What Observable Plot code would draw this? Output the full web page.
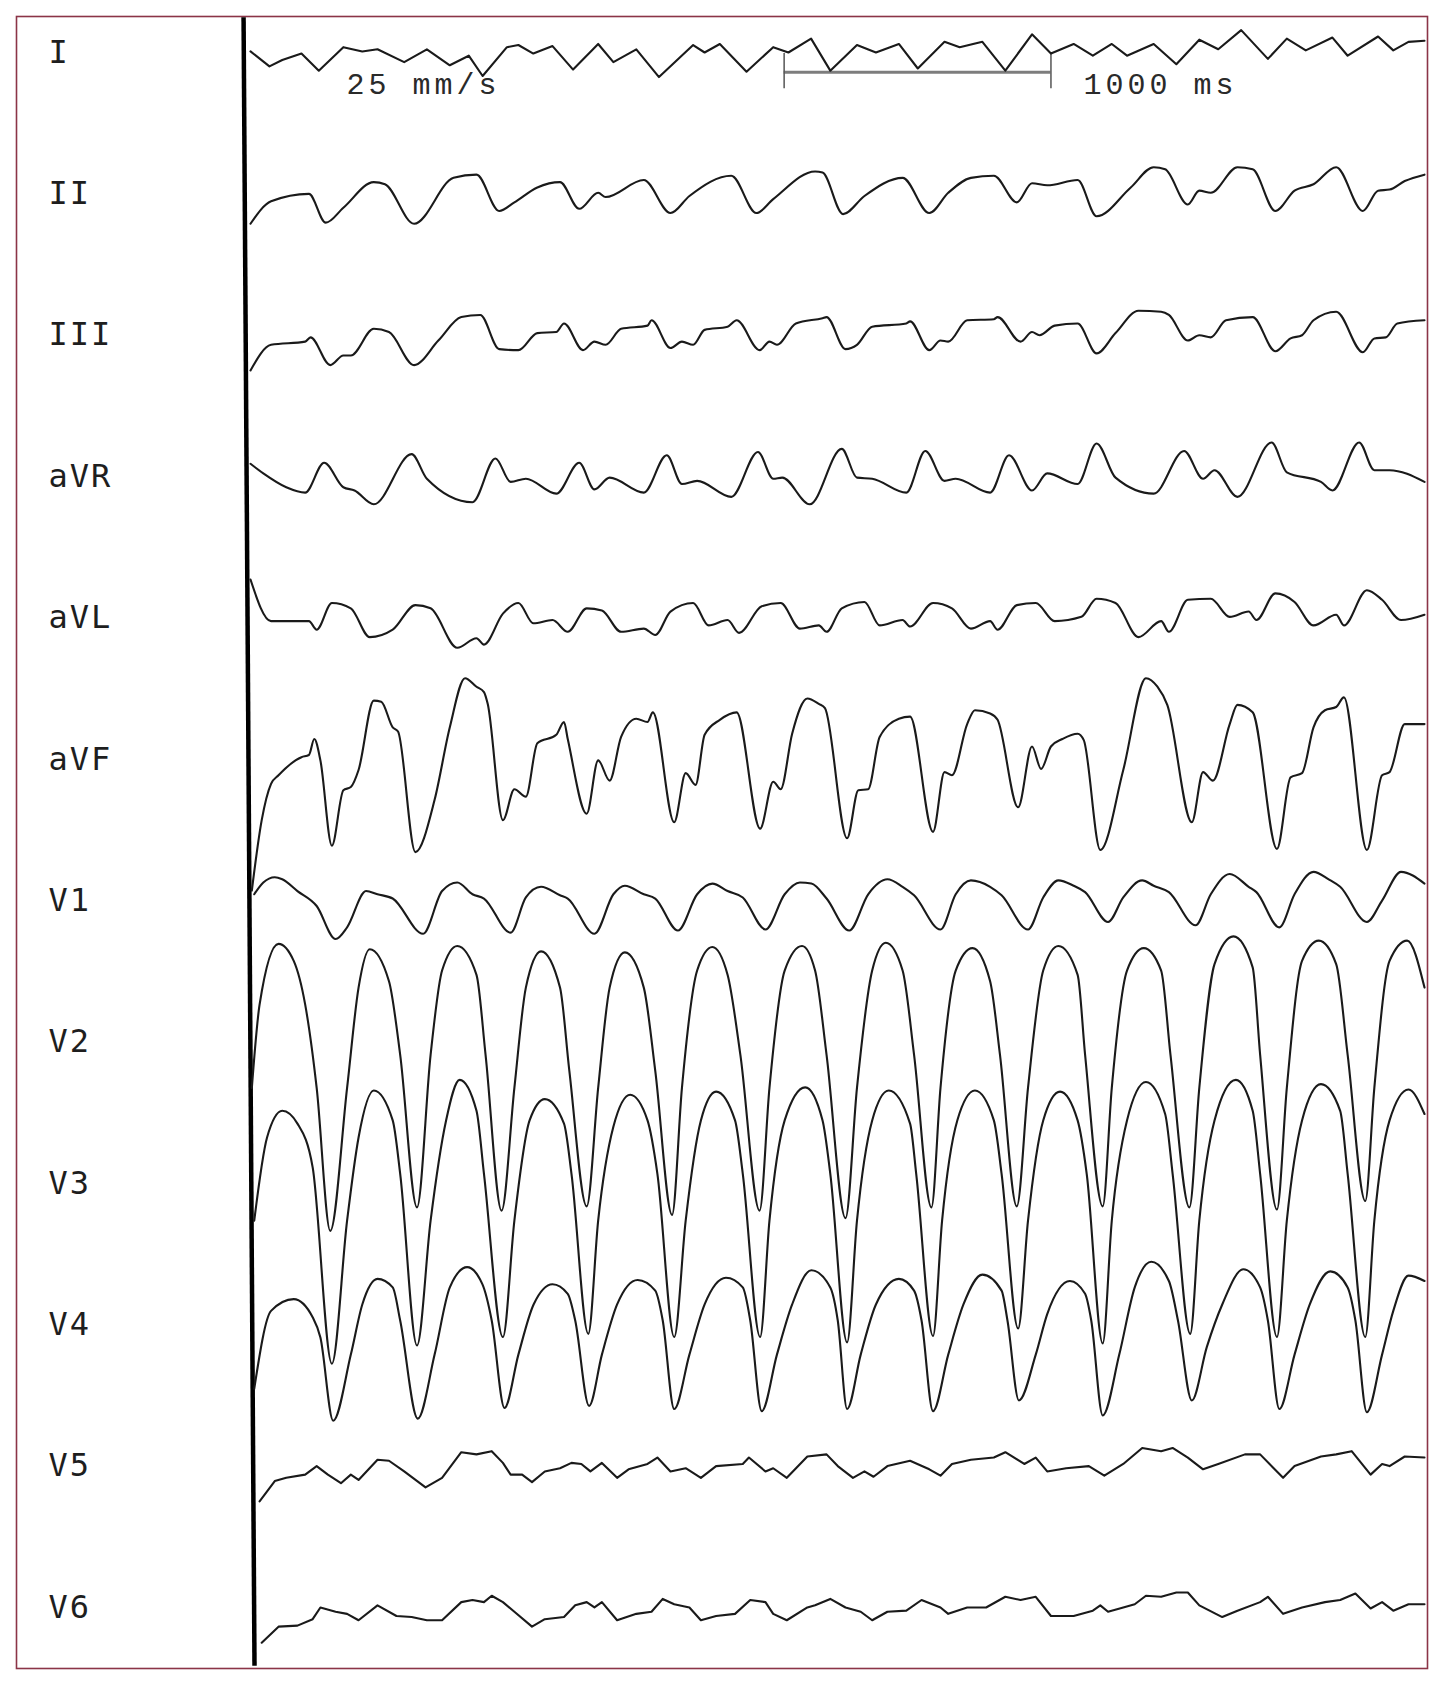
<!DOCTYPE html>
<html>
<head>
<meta charset="utf-8">
<script src="https://cdn.jsdelivr.net/npm/d3@7"></script>
<script src="https://cdn.jsdelivr.net/npm/@observablehq/plot@0.6"></script>
<style>
  html, body { margin: 0; padding: 0; background: #fff; }
  #chart svg { display: block; background: #fff; }
</style>
</head>
<body>
<div id="chart"></div>
<script>
// ---- Data (time in ms, amplitude in mV relative to each lead's label line) ----
const leadNames = ["I","II","III","aVR","aVL","aVF","V1","V2","V3","V4","V5","V6"];

const leadI = [[0,0.01],[71,-0.13],[119,-0.07],[191,-0.01],[256,-0.17],[348,0.05],[419,0.01],[476,0.03],[576,-0.09],[661,0.03],[747,-0.12],[818,-0.03],[870,-0.22],[961,0.05],[1004,0.07],[1060,-0.01],[1132,0.06],[1209,-0.16],[1303,0.08],[1360,-0.09],[1446,0.03],[1531,-0.23],[1659,0.07],[1702,0],[1759,0.08],[1859,-0.18],[1959,0.05],[2016,0],[2101,0.13],[2173,-0.17],[2273,0.07],[2344,0],[2430,0.08],[2501,-0.15],[2601,0.10],[2658,0.05],[2743,0.10],[2829,-0.17],[2929,0.17],[3000,-0.01],[3085,0.08],[3157,-0.03],[3228,0.08],[3285,-0.03],[3385,0.08],[3470,-0.11],[3556,0.12],[3627,0.03],[3713,0.21],[3813,-0.06],[3884,0.13],[3955,0.02],[4055,0.14],[4112,-0.03],[4226,0.15],[4283,0.02],[4340,0.10],[4400,0.11]];

const leadII = [[0,-0.28],[77,-0.07],[219,0],[282,-0.27],[348,-0.13],[462,0.11],[504,0.09],[613,-0.28],[761,0.15],[847,0.18],[932,-0.16],[989,-0.08],[1075,0.06],[1160,0.11],[1232,-0.14],[1303,0.01],[1331,-0.03],[1474,0.13],[1574,-0.18],[1645,-0.02],[1802,0.17],[1896,-0.18],[1959,-0.05],[2116,0.21],[2144,0.20],[2221,-0.19],[2301,-0.02],[2444,0.15],[2544,-0.18],[2615,0.01],[2700,0.15],[2786,0.17],[2872,-0.08],[2929,0.10],[2986,0.08],[3100,0.13],[3171,-0.21],[3299,0.06],[3385,0.25],[3428,0.23],[3513,-0.10],[3556,0.03],[3599,0.01],[3699,0.25],[3756,0.23],[3841,-0.16],[3913,0.03],[3984,0.09],[4069,0.25],[4169,-0.16],[4226,0.03],[4269,0.04],[4326,0.12],[4400,0.18]];

const leadIII = [[0,-0.33],[77,-0.09],[205,-0.06],[225,-0.02],[299,-0.28],[348,-0.19],[376,-0.19],[462,0.06],[519,0.03],[613,-0.28],[704,-0.05],[790,0.17],[861,0.19],[932,-0.13],[1004,-0.14],[1075,0.02],[1146,0.03],[1175,0.11],[1246,-0.14],[1289,-0.06],[1331,-0.09],[1389,0.06],[1488,0.09],[1503,0.14],[1574,-0.12],[1617,-0.06],[1659,-0.09],[1702,0.05],[1788,0.08],[1822,0.14],[1908,-0.14],[1945,-0.06],[1973,-0.09],[2044,0.11],[2144,0.16],[2159,0.17],[2230,-0.13],[2273,-0.09],[2330,0.08],[2458,0.11],[2472,0.13],[2544,-0.14],[2586,-0.05],[2615,-0.06],[2686,0.14],[2786,0.15],[2800,0.17],[2886,-0.06],[2929,0.03],[2957,0],[3014,0.09],[3100,0.11],[3171,-0.17],[3242,0.02],[3328,0.23],[3413,0.22],[3442,0.19],[3513,-0.05],[3556,0],[3599,-0.02],[3656,0.14],[3756,0.17],[3841,-0.15],[3898,-0.03],[3941,0],[3984,0.14],[4069,0.22],[4169,-0.16],[4212,-0.03],[4255,-0.02],[4298,0.11],[4400,0.14]];

const leadAVR = [[0,0.12],[48,0.03],[134,-0.10],[205,-0.15],[276,0.13],[348,-0.10],[390,-0.13],[462,-0.26],[604,0.21],[661,-0.02],[832,-0.24],[918,0.17],[975,-0.05],[1032,-0.02],[1146,-0.16],[1232,0.13],[1289,-0.12],[1346,-0.01],[1474,-0.15],[1560,0.20],[1617,-0.07],[1674,-0.04],[1802,-0.19],[1902,0.23],[1959,-0.02],[1993,-0.01],[2096,-0.26],[2216,0.26],[2273,-0.01],[2330,-0.02],[2458,-0.15],[2529,0.24],[2601,-0.04],[2643,-0.02],[2772,-0.15],[2843,0.20],[2929,-0.13],[2986,0.03],[3100,-0.07],[3171,0.31],[3242,-0.01],[3385,-0.16],[3499,0.24],[3570,-0.02],[3613,0.06],[3699,-0.19],[3827,0.32],[3884,0.04],[4012,-0.05],[4055,-0.13],[4155,0.32],[4212,0.06],[4269,0.06],[4400,-0.05]];

const leadAVL = [[0,0.36],[77,-0.03],[219,-0.03],[248,-0.11],[305,0.14],[376,0.09],[447,-0.18],[533,-0.11],[618,0.12],[675,0.09],[775,-0.28],[847,-0.19],[875,-0.25],[946,0.04],[1004,0.14],[1060,-0.05],[1132,-0.02],[1189,-0.13],[1260,0.09],[1317,0.07],[1389,-0.13],[1474,-0.10],[1517,-0.16],[1574,0.06],[1659,0.14],[1717,-0.07],[1788,-0.02],[1831,-0.14],[1916,0.11],[1987,0.14],[2059,-0.10],[2130,-0.07],[2159,-0.13],[2216,0.09],[2301,0.15],[2358,-0.07],[2444,-0.02],[2472,-0.08],[2558,0.14],[2629,0.09],[2700,-0.10],[2772,-0.03],[2800,-0.11],[2872,0.12],[2943,0.14],[3014,-0.03],[3114,0.01],[3171,0.18],[3242,0.14],[3328,-0.18],[3413,-0.03],[3442,-0.13],[3513,0.17],[3599,0.18],[3670,0.01],[3741,0.06],[3770,-0.02],[3841,0.23],[3913,0.15],[3984,-0.07],[4069,0.03],[4098,-0.07],[4184,0.26],[4241,0.17],[4312,-0.02],[4400,0.03]];

const leadAVF = [[5,-1.23],[42,-0.57],[77,-0.23],[105,-0.15],[191,0.02],[219,0.04],[239,0.19],[262,-0.01],[305,-0.81],[348,-0.29],[376,-0.26],[405,-0.10],[462,0.55],[490,0.54],[533,0.30],[553,0.26],[618,-0.87],[690,-0.38],[747,0.30],[804,0.76],[847,0.68],[875,0.63],[889,0.52],[946,-0.57],[989,-0.28],[1032,-0.35],[1075,0.15],[1146,0.23],[1175,0.35],[1189,0.19],[1260,-0.51],[1303,-0.01],[1346,-0.20],[1389,0.21],[1446,0.38],[1488,0.35],[1508,0.44],[1588,-0.59],[1631,-0.13],[1668,-0.24],[1702,0.23],[1759,0.37],[1822,0.44],[1910,-0.65],[1959,-0.21],[1987,-0.28],[2030,0.24],[2087,0.57],[2130,0.52],[2153,0.48],[2236,-0.74],[2278,-0.29],[2315,-0.28],[2358,0.21],[2430,0.38],[2472,0.40],[2558,-0.68],[2601,-0.12],[2629,-0.15],[2686,0.33],[2715,0.46],[2772,0.43],[2800,0.37],[2877,-0.45],[2929,0.12],[2963,-0.09],[3000,0.12],[3043,0.19],[3100,0.24],[3123,0.18],[3185,-0.85],[3271,-0.10],[3356,0.76],[3399,0.68],[3436,0.51],[3528,-0.59],[3570,-0.12],[3607,-0.20],[3670,0.33],[3699,0.51],[3756,0.44],[3847,-0.84],[3898,-0.17],[3941,-0.13],[3984,0.30],[4027,0.46],[4069,0.49],[4098,0.58],[4184,-0.85],[4241,-0.15],[4269,-0.12],[4326,0.33],[4400,0.33]];

const leadV1 = [[14,0.06],[48,0.17],[91,0.22],[119,0.20],[176,0.09],[248,-0.05],[319,-0.36],[362,-0.25],[433,0.09],[476,0.06],[533,0.02],[647,-0.31],[718,0.09],[775,0.17],[832,0.06],[875,0.02],[975,-0.30],[1032,0.03],[1089,0.13],[1160,0.05],[1189,0.02],[1289,-0.31],[1360,0.06],[1403,0.14],[1474,0.06],[1517,0.02],[1602,-0.28],[1674,0.06],[1731,0.16],[1788,0.09],[1845,0.03],[1930,-0.27],[2002,0.06],[2059,0.17],[2102,0.16],[2159,0.02],[2244,-0.28],[2315,0.06],[2387,0.20],[2444,0.13],[2487,0.05],[2586,-0.27],[2643,0.06],[2700,0.19],[2772,0.13],[2815,0.05],[2914,-0.27],[2971,0.03],[3028,0.19],[3085,0.14],[3128,0.08],[3214,-0.20],[3271,0.03],[3342,0.19],[3385,0.14],[3442,0.08],[3542,-0.23],[3599,0.06],[3670,0.25],[3741,0.13],[3770,0.08],[3856,-0.25],[3913,0.06],[3984,0.27],[4041,0.20],[4084,0.13],[4184,-0.20],[4241,0],[4312,0.27],[4400,0.16]];

const leadV2 = [[5,-0.43],[34,0.35],[105,0.92],[162,0.76],[205,0.35],[248,-0.43],[299,-1.77],[362,-0.43],[405,0.51],[447,0.87],[519,0.57],[561,-0.12],[624,-1.55],[675,-0.12],[718,0.67],[775,0.90],[847,0.63],[881,-0.12],[941,-1.58],[989,-0.43],[1032,0.51],[1089,0.85],[1160,0.51],[1195,-0.27],[1260,-1.54],[1303,-0.43],[1346,0.51],[1403,0.84],[1474,0.51],[1517,-0.27],[1580,-1.62],[1617,-0.43],[1674,0.67],[1731,0.89],[1788,0.63],[1836,-0.12],[1908,-1.58],[1945,-0.43],[2002,0.67],[2067,0.90],[2116,0.67],[2159,-0.12],[2230,-1.65],[2273,-0.43],[2330,0.67],[2381,0.93],[2444,0.67],[2487,-0.12],[2552,-1.55],[2586,-0.43],[2643,0.67],[2706,0.88],[2772,0.57],[2809,-0.12],[2872,-1.54],[2914,-0.43],[2971,0.67],[3028,0.90],[3100,0.63],[3128,-0.12],[3194,-1.54],[3228,-0.43],[3285,0.67],[3348,0.88],[3413,0.67],[3448,-0.12],[3519,-1.55],[3556,-0.43],[3613,0.73],[3684,0.99],[3756,0.70],[3784,-0.12],[3847,-1.57],[3884,-0.43],[3941,0.76],[4004,0.95],[4069,0.73],[4112,-0.12],[4178,-1.49],[4212,-0.43],[4269,0.76],[4335,0.95],[4400,0.51]];

const leadV3 = [[14,-0.35],[62,0.43],[119,0.68],[176,0.56],[233,0.15],[305,-1.69],[362,-0.35],[405,0.43],[462,0.87],[533,0.59],[561,0.09],[624,-1.52],[675,-0.35],[733,0.59],[784,0.97],[847,0.68],[875,0.09],[946,-1.44],[989,-0.35],[1046,0.59],[1103,0.79],[1175,0.56],[1203,0.09],[1266,-1.41],[1303,-0.35],[1360,0.53],[1423,0.83],[1488,0.59],[1525,0.09],[1588,-1.44],[1631,-0.35],[1688,0.59],[1745,0.86],[1816,0.59],[1845,0.09],[1910,-1.44],[1945,-0.35],[2002,0.59],[2079,0.90],[2144,0.59],[2173,0.09],[2236,-1.49],[2273,-0.35],[2330,0.59],[2392,0.87],[2472,0.56],[2495,0.09],[2558,-1.43],[2592,-0.35],[2649,0.59],[2715,0.87],[2786,0.59],[2815,0.09],[2877,-1.36],[2914,-0.35],[2971,0.59],[3034,0.86],[3100,0.59],[3134,0.09],[3194,-1.50],[3228,-0.35],[3285,0.59],[3356,0.95],[3428,0.65],[3456,0.09],[3522,-1.41],[3556,-0.35],[3613,0.59],[3693,0.97],[3756,0.68],[3784,0.09],[3847,-1.44],[3884,-0.35],[3941,0.59],[4012,0.93],[4084,0.68],[4112,0.09],[4178,-1.44],[4212,-0.35],[4269,0.59],[4340,0.88],[4400,0.65]];

const leadV4 = [[14,-0.60],[77,0.13],[162,0.24],[233,0.07],[262,-0.12],[310,-0.90],[376,-0.28],[419,0.19],[476,0.43],[533,0.35],[561,0.04],[627,-0.88],[690,-0.28],[747,0.35],[812,0.54],[869,0.38],[904,0.04],[952,-0.78],[1004,-0.28],[1061,0.19],[1132,0.38],[1189,0.29],[1217,0.04],[1269,-0.76],[1317,-0.28],[1374,0.19],[1451,0.42],[1517,0.32],[1545,0.04],[1588,-0.79],[1645,-0.28],[1702,0.19],[1782,0.44],[1845,0.35],[1873,0.04],[1916,-0.81],[1973,-0.28],[2030,0.19],[2102,0.51],[2173,0.35],[2201,0.04],[2236,-0.79],[2287,-0.28],[2344,0.19],[2430,0.43],[2487,0.32],[2515,0.04],[2558,-0.81],[2615,-0.28],[2672,0.19],[2743,0.47],[2815,0.32],[2837,0.04],[2880,-0.71],[2943,-0.28],[2986,0.10],[3071,0.41],[3128,0.29],[3151,0.04],[3194,-0.85],[3256,-0.28],[3314,0.35],[3376,0.59],[3442,0.41],[3476,0.04],[3528,-0.71],[3584,-0.21],[3642,0.19],[3721,0.52],[3784,0.35],[3813,0.04],[3856,-0.79],[3913,-0.28],[3970,0.19],[4047,0.50],[4112,0.35],[4141,0.04],[4184,-0.82],[4241,-0.28],[4283,0.13],[4340,0.46],[4400,0.41]];

const leadV5 = [[34,-0.33],[91,-0.14],[134,-0.11],[205,-0.08],[248,0],[290,-0.08],[339,-0.16],[376,-0.08],[405,-0.13],[476,0.06],[519,0.05],[576,-0.05],[656,-0.20],[718,-0.11],[790,0.13],[847,0.11],[904,0.14],[946,0.03],[975,-0.08],[1018,-0.08],[1055,-0.15],[1103,-0.05],[1160,-0.02],[1203,0.03],[1240,0.02],[1274,-0.05],[1317,0.03],[1374,-0.11],[1417,-0.03],[1488,0.02],[1525,0.08],[1574,-0.05],[1631,-0.02],[1688,-0.11],[1745,0],[1845,0.02],[1868,0.08],[1930,-0.05],[1959,-0.02],[2010,-0.11],[2087,0.09],[2159,0.11],[2201,0],[2258,-0.11],[2301,-0.05],[2335,-0.10],[2387,0],[2472,0.05],[2544,-0.03],[2586,-0.09],[2629,0.02],[2700,0.06],[2786,0.08],[2829,0.13],[2900,0.02],[2943,0.08],[2986,-0.05],[3057,-0.02],[3142,0],[3200,-0.09],[3271,0.02],[3342,0.17],[3413,0.14],[3456,0.17],[3513,0.08],[3570,-0.03],[3627,0.02],[3727,0.11],[3784,0.11],[3870,-0.11],[3913,0],[4012,0.09],[4069,0.11],[4127,0.14],[4198,-0.08],[4241,0.02],[4269,0],[4326,0.09],[4400,0.08]];

const leadV6 = [[42,-0.33],[105,-0.18],[176,-0.17],[233,-0.11],[262,0],[319,-0.04],[362,-0.06],[405,-0.12],[476,0.02],[547,-0.08],[604,-0.09],[661,-0.12],[718,-0.12],[790,0.05],[832,0.07],[875,0.05],[904,0.11],[946,0.05],[989,-0.04],[1055,-0.18],[1103,-0.11],[1175,-0.09],[1217,0.02],[1260,0.05],[1289,0],[1317,0.05],[1374,-0.12],[1446,-0.06],[1503,-0.04],[1545,0.08],[1588,0.03],[1645,0],[1688,-0.12],[1745,-0.08],[1816,-0.06],[1873,0.07],[1930,0.05],[1959,-0.06],[2010,-0.12],[2087,0],[2116,0.02],[2173,0.08],[2230,0],[2287,-0.04],[2330,-0.12],[2387,-0.04],[2458,-0.03],[2515,0.07],[2586,0],[2615,-0.06],[2686,0],[2757,0],[2829,0.10],[2886,0.07],[2943,0.10],[3000,-0.08],[3085,-0.08],[3157,-0.03],[3185,0.02],[3214,-0.04],[3271,0],[3314,0.03],[3356,0.11],[3413,0.10],[3470,0.14],[3513,0.14],[3556,0.02],[3642,-0.09],[3699,-0.03],[3784,0.05],[3813,0.10],[3870,-0.06],[3941,0],[4027,0.05],[4084,0.07],[4141,0.13],[4198,-0.01],[4241,0.05],[4283,-0.03],[4340,0.03],[4400,0.03]];

const leadSeries = [leadI, leadII, leadIII, leadAVR, leadAVL, leadAVF, leadV1, leadV2, leadV3, leadV4, leadV5, leadV6];
const scaleBarMs = [2000, 3000];          // 1000 ms calibration bar
const speedLabel = "25 mm/s";
const barLabel = "1000 ms";

// ---- Layout constants ----
const W = 1454, H = 1687;
const pxPerMv = 106.7;
const firstBaselinePx = 52;
const leadSpacing = 141.36 / pxPerMv;   // mV between lead label lines
const smoothLeads = new Set(["II", "III", "aVR", "aVL", "aVF", "V1", "V2", "V3", "V4"]);

const rows = [];
leadSeries.forEach((pts, i) => {
  pts.forEach(([t, v]) => rows.push({lead: leadNames[i], t, y: v - i * leadSpacing}));
});
const jagged = rows.filter(d => !smoothLeads.has(d.lead));
const smooth = rows.filter(d => smoothLeads.has(d.lead));

const yTop = firstBaselinePx / pxPerMv;
const yBottom = -(H - firstBaselinePx) / pxPerMv;

const chart = Plot.plot({
  width: W,
  height: H,
  marginLeft: 250,
  marginRight: 30,
  marginTop: 0,
  marginBottom: 0,
  x: {domain: [0, 4400], axis: null},
  y: {domain: [yBottom, yTop], axis: null},
  style: {background: "#fff"},
  marks: [
    Plot.frame({stroke: "#8b3447", strokeWidth: 1.6, insetLeft: -234, insetRight: -3, insetTop: 16, insetBottom: 19}),
    // thick left line where the traces start
    Plot.link([0], {x1: -26, y1: 0.33, x2: 15, y2: -15.12, stroke: "#000", strokeWidth: 4.5}),
    // calibration bar
    Plot.ruleY([-0.185], {x1: scaleBarMs[0], x2: scaleBarMs[1], stroke: "#7d7d7d", strokeWidth: 3}),
    Plot.ruleX(scaleBarMs, {y1: -0.01, y2: -0.34, stroke: "#555", strokeWidth: 1.5}),
    Plot.text([speedLabel], {x: 360, y: -0.30, text: d => d, textAnchor: "start", fontFamily: "Liberation Mono", fontSize: 30, fill: "#2a2a2a"}),
    Plot.text([barLabel], {x: 3122, y: -0.30, text: d => d, textAnchor: "start", fontFamily: "Liberation Mono", fontSize: 30, fill: "#2a2a2a"}),
    // lead labels
    Plot.text(leadNames, {x: -757, y: (d, i) => -i * leadSpacing, text: d => d, textAnchor: "start", fontFamily: "DejaVu Sans Mono", fontSize: 32, fill: "#1e1e1e"}),
    // traces
    Plot.line(jagged, {x: "t", y: "y", z: "lead", stroke: "#1a1a1a", strokeWidth: 2.1, curve: "linear"}),
    Plot.line(smooth, {x: "t", y: "y", z: "lead", stroke: "#1a1a1a", strokeWidth: 2.1, curve: "monotone-x"})
  ]
});

chart.querySelectorAll('g[font-family="Liberation Mono"]').forEach(g => g.setAttribute("letter-spacing", "4"));
chart.querySelectorAll('g[font-family="DejaVu Sans Mono"]').forEach(g => g.setAttribute("letter-spacing", "2"));

document.getElementById("chart").appendChild(chart);
</script>
</body>
</html>
